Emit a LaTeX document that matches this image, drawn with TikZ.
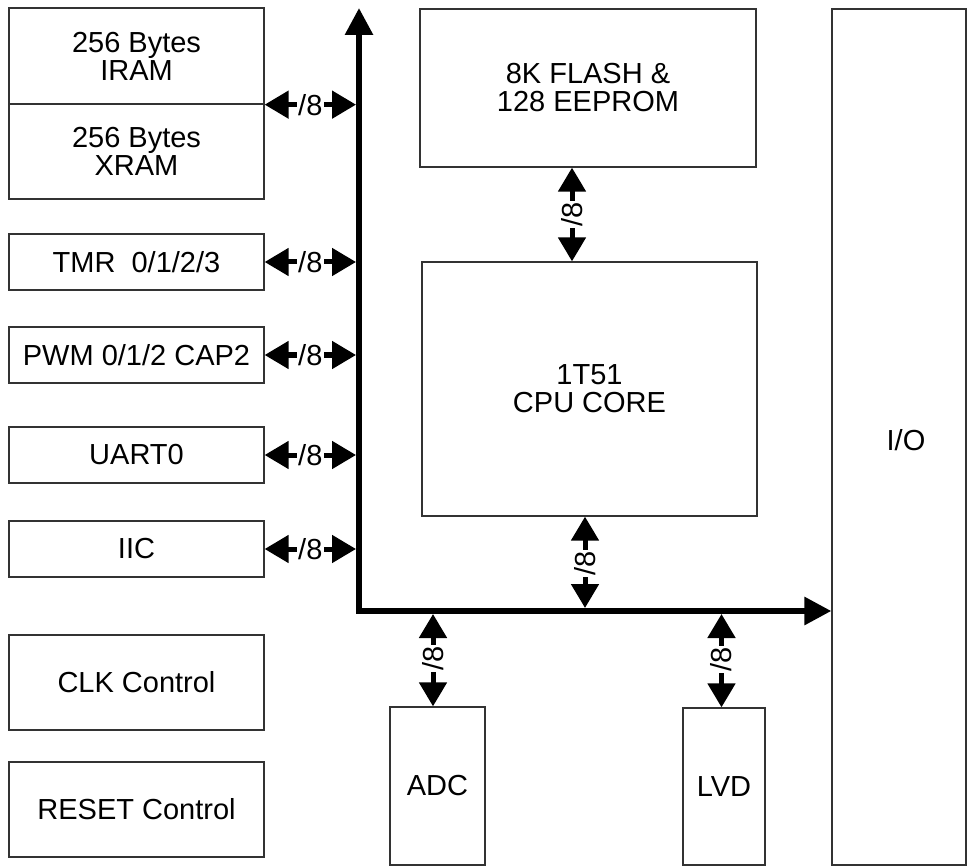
\documentclass[tikz,border=0pt]{standalone}
\usepackage{fontspec}
\setmainfont{Liberation Sans}
\usetikzlibrary{arrows.meta}
\begin{document}
\begin{tikzpicture}[x=1pt,y=-1pt,
  txt/.style={font=\fontsize{29pt}{28pt}\selectfont, align=center},
  box/.style={txt, draw=black!80, line width=1.3pt, inner sep=2pt},
  bus/.style={line width=6pt, <->, >={Triangle[length=27pt,width=27pt]}},
  sig/.style={line width=5pt, <->, >={Triangle[length=24pt,width=27pt]}},
  lbl/.style={fill=white, inner sep=1.5pt, font=\fontsize{29pt}{29pt}\selectfont}]
\useasboundingbox (0,0) rectangle (974,866);
% left column
\node[box, minimum width=255pt, minimum height=96pt] (iram) at (136.5,56) {256 Bytes\\IRAM};
\node[box, minimum width=255pt, minimum height=95pt] (xram) at (136.5,151.5) {256 Bytes\\XRAM};
\node[box, minimum width=255pt, minimum height=56pt] (tmr) at (136.5,262) {TMR\ \ 0/1/2/3};
\node[box, minimum width=255pt, minimum height=56pt] (pwm) at (136.5,355) {PWM 0/1/2 CAP2};
\node[box, minimum width=255pt, minimum height=56pt] (uart) at (136.5,455) {UART0};
\node[box, minimum width=255pt, minimum height=56pt] (iic) at (136.5,549) {IIC};
\node[box, minimum width=255pt, minimum height=95pt] (clk) at (136.5,682.5) {CLK Control};
\node[box, minimum width=255pt, minimum height=95pt] (reset) at (136.5,809.5) {RESET Control};
% centre
\node[box, minimum width=336pt, minimum height=158pt] (flash) at (588,88) {8K FLASH \&\\128 EEPROM};
\node[box, minimum width=335pt, minimum height=254pt] (cpu) at (589.5,389) {1T51\\CPU CORE};
\node[box, minimum width=95pt, minimum height=158pt] (adc) at (437.5,786) {ADC};
\node[box, minimum width=82pt, minimum height=157pt] (lvd) at (724,786.5) {LVD};
% right
\node[box, minimum width=134pt, minimum height=856pt] (io) at (899,437) {};
\node[txt] (iotext) at ([xshift=7pt,yshift=-3pt]io.center) {I/O};
% bus
\coordinate (bustop) at (359,8);
\coordinate (buscorner) at (359,611);
\draw[bus] (bustop) -- (buscorner) -- (io.west |- buscorner);
% horizontal connections
\foreach \n/\a in {iram/south east, tmr/east, pwm/east, uart/east, iic/east}{
  \draw[sig, shorten >=3pt] (\n.\a) -- (\n.\a -| buscorner) node[midway, lbl, xshift=-1.5pt] {/8};
}
% vertical connections
\draw[sig] ([xshift=-16pt]flash.south) -- ([xshift=-16pt]flash.south |- cpu.north) node[midway, lbl, rotate=90] {/8};
\draw[sig, shorten >=3pt] ([xshift=-4.5pt]cpu.south) -- ([xshift=-4.5pt]cpu.south |- buscorner) node[midway, lbl, rotate=90] {/8};
\draw[sig, shorten <=3pt] ([xshift=-4.5pt]adc.north |- buscorner) -- ([xshift=-4.5pt]adc.north) node[midway, lbl, rotate=90] {/8};
\draw[sig, shorten <=3pt] ([xshift=-2.5pt]lvd.north |- buscorner) -- ([xshift=-2.5pt]lvd.north) node[midway, lbl, rotate=90] {/8};
\end{tikzpicture}
\end{document}
